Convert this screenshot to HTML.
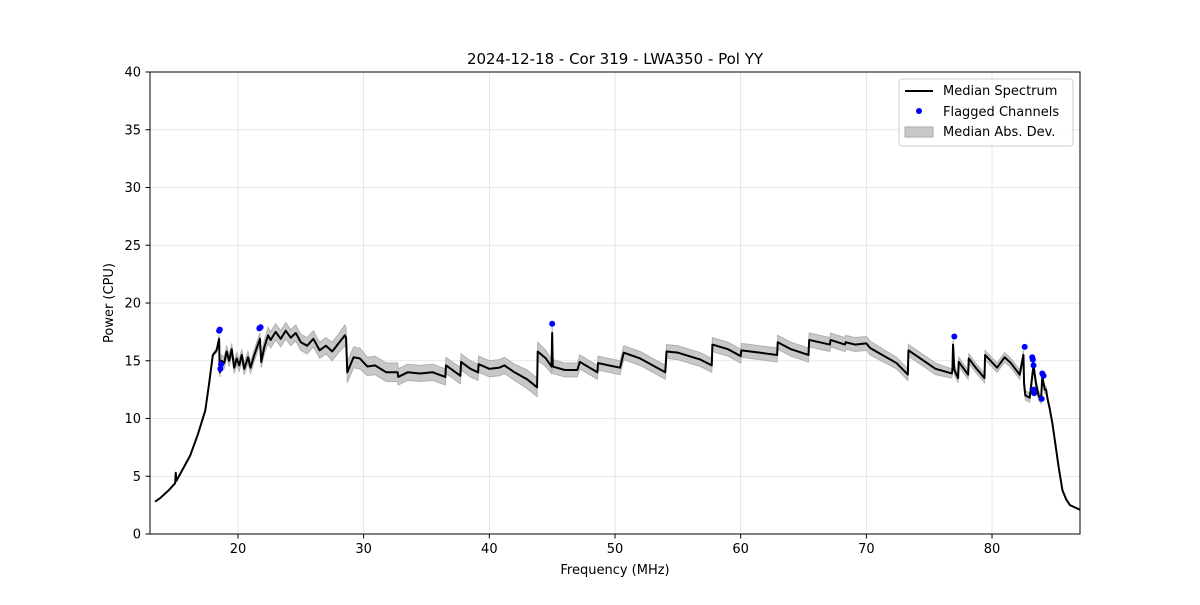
<!DOCTYPE html>
<html><head><meta charset="utf-8"><style>
body{margin:0;background:#fff;font-family:"Liberation Sans","DejaVu Sans",sans-serif}
svg text{font-family:"DejaVu Sans","Liberation Sans",sans-serif;fill:#000}
</style></head><body>
<svg id="chart" width="1200" height="600" xmlns="http://www.w3.org/2000/svg">
<rect width="1200" height="600" fill="#fff"/>
<g id="grid"></g>
<g id="band"></g>
<g id="line"></g>
<g id="flags"></g>
<rect x="150" y="72" width="930" height="462" fill="none" stroke="#000" stroke-width="1"/>
<g id="axes"></g>
<text x="615" y="64" font-size="15" text-anchor="middle">2024-12-18 - Cor 319 - LWA350 - Pol YY</text>
<text x="615" y="574" font-size="13" text-anchor="middle">Frequency (MHz)</text>
<text x="113" y="303" font-size="13" text-anchor="middle" transform="rotate(-90 113 303)">Power (CPU)</text>
<g>
<rect x="899" y="79" width="174" height="67" rx="3" fill="#fff" fill-opacity="0.8" stroke="#ccc"/>
<line x1="905" y1="91" x2="933" y2="91" stroke="#000" stroke-width="2"/>
<text x="943" y="95" font-size="13">Median Spectrum</text>
<circle cx="919" cy="111" r="3" fill="#0000ff"/>
<text x="943" y="116" font-size="13">Flagged Channels</text>
<rect x="905" y="127" width="28" height="10" fill="#c8c8c8" stroke="#a8a8a8"/>
<text x="943" y="136" font-size="13">Median Abs. Dev.</text>
</g>
</svg>
<script>
const freqs=[
13.4,13.8,14.5,15.0,15.05,15.1,16.2,16.8,17.4,17.7,18.0,18.3,
18.5,18.55,18.7,18.9,19.1,19.3,19.5,19.7,19.9,20.1,
20.3,20.5,20.8,21.0,21.3,21.75,21.85,22.1,22.4,22.6,
23.0,23.4,23.8,24.2,24.6,25.0,25.5,26.0,26.5,27.0,
27.5,28.0,28.5,28.6,28.7,29.2,29.7,30.3,30.9,31.8,
32.7,32.75,33.5,34.5,35.5,36.5,36.55,37.7,37.75,38.5,
39.1,39.15,40.0,40.8,41.2,42.0,43.0,43.8,43.85,44.5,
44.95,45.0,45.05,46.0,47.0,47.2,48.6,48.65,49.5,50.4,
50.7,52.0,54.0,54.1,55.0,56.8,57.7,57.75,59.0,60.0,
60.05,61.5,62.9,62.95,64.0,65.4,65.45,67.1,67.15,68.3,
68.35,69.1,70.0,70.3,72.4,73.3,73.35,75.5,76.8,76.85,
76.9,77.0,77.3,77.35,78.1,78.15,78.7,79.4,79.45,80.4,
81.0,81.5,82.2,82.5,82.55,82.6,82.65,83.0,83.3,83.5,
83.7,83.9,84.0,84.2,84.3,84.4,84.6,84.8,85.0,85.3,85.6,85.9,86.2,86.6,
87.0];
const power=[
2.8,3.1,3.8,4.4,5.3,4.6,6.8,8.6,10.7,13.0,15.5,15.9,
16.9,14.0,15.0,14.8,15.8,15.0,16.0,14.4,15.2,14.6,
15.5,14.3,15.3,14.4,15.5,16.9,14.9,16.2,17.2,16.8,
17.5,16.9,17.6,17.0,17.4,16.6,16.3,16.9,15.9,16.3,
15.8,16.5,17.2,17.0,14.0,15.3,15.2,14.5,14.6,14.0,
14.0,13.6,14.0,13.9,14.0,13.6,14.6,13.7,14.9,14.3,
14.0,14.7,14.3,14.4,14.6,14.0,13.4,12.7,15.8,15.2,
14.5,17.4,14.5,14.2,14.2,14.9,14.0,14.8,14.6,14.4,
15.7,15.2,14.0,15.8,15.7,15.1,14.6,16.4,16.0,15.4,
15.9,15.7,15.5,16.6,16.0,15.5,16.8,16.4,16.8,16.4,
16.6,16.4,16.5,16.1,14.8,13.8,15.9,14.3,13.9,14.2,
16.4,14.2,13.5,14.9,13.8,15.2,14.4,13.5,15.5,14.4,
15.3,14.8,13.8,15.5,13.0,12.5,12.0,11.8,14.6,13.0,
12.0,11.6,13.6,12.5,12.5,11.8,10.8,9.6,8.1,5.8,3.8,3.0,2.5,2.3,
2.1];
const mad=[
0,0,0,0,0,0,0,0,0,0,0.1,0.2,
0.3,0.4,0.5,0.5,0.5,0.5,0.5,0.5,0.5,0.5,
0.5,0.5,0.5,0.5,0.5,0.5,0.5,0.6,0.7,0.7,
0.7,0.7,0.7,0.7,0.7,0.7,0.7,0.7,0.7,0.7,
0.8,0.8,0.9,0.9,0.9,0.9,0.9,0.8,0.8,0.8,
0.8,0.7,0.7,0.7,0.7,0.7,0.7,0.7,0.7,0.7,
0.7,0.7,0.7,0.7,0.7,0.7,0.8,0.8,0.8,0.7,
0.6,0.6,0.6,0.6,0.6,0.6,0.6,0.6,0.6,0.6,
0.6,0.6,0.6,0.6,0.6,0.6,0.6,0.6,0.6,0.6,
0.6,0.6,0.6,0.6,0.6,0.6,0.6,0.6,0.6,0.6,
0.6,0.6,0.6,0.6,0.5,0.5,0.5,0.5,0.4,0.4,
0.4,0.4,0.4,0.4,0.4,0.4,0.4,0.4,0.4,0.4,
0.4,0.4,0.4,0.4,0.4,0.4,0.4,0.4,0.4,0.4,
0.4,0.3,0.3,0.3,0.3,0.2,0.1,0,0,0,0,0,0,0,
0];
const flagFreqs=[18.5,18.55,18.6,18.65,21.7,21.8,45.0,77.0,82.6,83.2,83.25,83.3,83.3,83.35,84.0,84.1,83.95];
const flagPower=[17.6,17.7,14.3,14.7,17.8,17.9,18.2,17.1,16.2,15.3,15.1,14.6,12.5,12.2,13.9,13.7,11.7];
const xTicks=[20,30,40,50,60,70,80];
const yTicks=[0,5,10,15,20,25,30,35,40];
const NS='http://www.w3.org/2000/svg';
const X=f=>150+(f-13)*(930/74), Y=p=>534-p*(462/40);
function mk(tag,attrs,parent){const e=document.createElementNS(NS,tag);for(const k in attrs)e.setAttribute(k,attrs[k]);parent.appendChild(e);return e;}
const grid=document.getElementById('grid'),axes=document.getElementById('axes');
xTicks.forEach(t=>{
 const g=mk('line',{x1:X(t),x2:X(t),y1:72,y2:534,stroke:'#e0e0e0','stroke-width':0.8},grid);
 
 
 const tk=mk('line',{x1:X(t),x2:X(t),y1:534,y2:538.5,stroke:'#000'},axes);
 
 
 const tx=mk('text',{x:X(t),y:553,'font-size':13,'text-anchor':'middle'},axes);tx.textContent=t;
 
 
});
yTicks.forEach(t=>{
 const g=mk('line',{x1:150,x2:1080,y1:Y(t),y2:Y(t),stroke:'#e0e0e0','stroke-width':0.8},grid);
 
 
 const tk=mk('line',{x1:145.5,x2:150,y1:Y(t),y2:Y(t),stroke:'#000'},axes);
 
 
 const tx=mk('text',{x:141,y:Y(t)+4.5,'font-size':13,'text-anchor':'end'},axes);tx.textContent=t;
 
 
});
const n=Math.min(freqs.length,power.length,mad.length);
const idx=[...Array(n).keys()];
const up=idx.map(i=>X(freqs[i])+','+Y(power[i]+mad[i]));
const dn=idx.map(i=>X(freqs[i])+','+Y(power[i]-mad[i])).reverse();
const band=mk('polygon',{points:up.concat(dn).join(' '),fill:'#c8c8c8',stroke:'#b0b0b0','stroke-width':1},document.getElementById('band'));


const ln=mk('polyline',{points:idx.map(i=>X(freqs[i])+','+Y(power[i])).join(' '),fill:'none',stroke:'#000','stroke-width':2,'stroke-linejoin':'round'},document.getElementById('line'));


flagFreqs.forEach((f,i)=>{
 const c=mk('circle',{cx:X(f),cy:Y(flagPower[i]),r:3,fill:'#0000ff'},document.getElementById('flags'));
 
 
});
</script>
</body></html>
